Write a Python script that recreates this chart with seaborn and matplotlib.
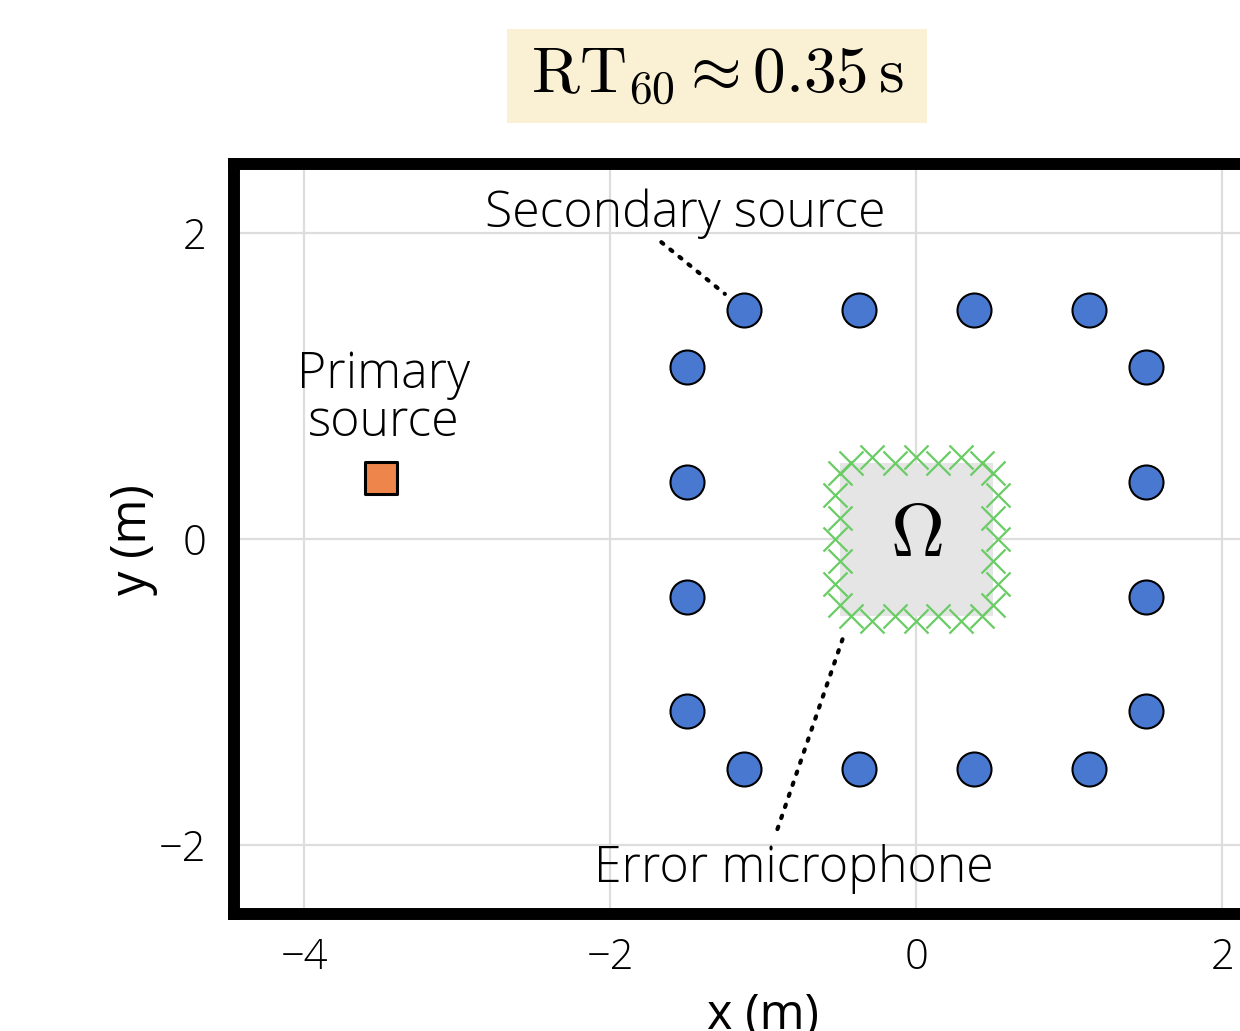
import matplotlib
matplotlib.use("Agg")
import matplotlib.pyplot as plt
import seaborn as sns
from matplotlib.patches import Rectangle

# ---------------- data ----------------
# secondary sources (loudspeakers) on a square of half-side 1.5 m
sec_x = [-1.125, -0.375, 0.375, 1.125, 1.5, 1.5, 1.5, 1.5,
         1.125, 0.375, -0.375, -1.125, -1.5, -1.5, -1.5, -1.5]
sec_y = [1.5, 1.5, 1.5, 1.5, 1.125, 0.375, -0.375, -1.125,
         -1.5, -1.5, -1.5, -1.5, -1.125, -0.375, 0.375, 1.125]

# primary source
prim_x = [-3.5]
prim_y = [0.4]

# error microphones around the control region (staggered double layer)
mic_x = [-0.43, -0.29, -0.14, 0.0, 0.14, 0.29, 0.43,          # top
         -0.43, -0.29, -0.14, 0.0, 0.14, 0.29, 0.43,          # bottom
         -0.50, -0.535, -0.50, -0.535, -0.50, -0.535, -0.50,  # left
         0.50, 0.535, 0.50, 0.535, 0.50, 0.535, 0.50]         # right
mic_y = [0.50, 0.535, 0.50, 0.535, 0.50, 0.535, 0.50,
         -0.50, -0.535, -0.50, -0.535, -0.50, -0.535, -0.50,
         0.43, 0.29, 0.14, 0.0, -0.14, -0.29, -0.43,
         0.43, 0.29, 0.14, 0.0, -0.14, -0.29, -0.43]

# control region Omega (square, half-side)
omega_half = 0.5

x_ticks = [-4, -2, 0, 2]
y_ticks = [-2, 0, 2]
x_lim = (-4.46, 2.46)
y_lim = (-2.45, 2.45)

# ---------------- style ----------------
sns.set_theme(style="white")
plt.rcParams['font.family'] = ['Open Sans', 'DejaVu Sans']
plt.rcParams['font.weight'] = 'light'
plt.rcParams['mathtext.fontset'] = 'cm'
for k in ['text.color', 'axes.labelcolor', 'xtick.color', 'ytick.color']:
    plt.rcParams[k] = 'black'

fig = plt.figure(figsize=(12.4, 10.31), dpi=100)
ax_w = (x_lim[1] - x_lim[0]) * 153 / 1240
ax_h = (y_lim[1] - y_lim[0]) * 153 / 1031
ax = fig.add_axes([234 / 1240, 1 - 914 / 1031, ax_w, ax_h])

# control region
ax.add_patch(Rectangle((-omega_half, -omega_half), 2 * omega_half, 2 * omega_half,
                       facecolor="#E5E5E5", edgecolor="none", zorder=1))
ax.text(0, 0.02, r"$\Omega$", ha="center", va="center", fontsize=54, zorder=2)

# microphones
sns.scatterplot(x=mic_x, y=mic_y, ax=ax, marker="x", s=300, color="#6ACC64",
                linewidth=1.6, zorder=3, legend=False)
# secondary sources
sns.scatterplot(x=sec_x, y=sec_y, ax=ax, marker="o", s=600, color="#4878D0",
                edgecolor="black", linewidth=1.5, zorder=4, legend=False)
# primary source
sns.scatterplot(x=prim_x, y=prim_y, ax=ax, marker="s", s=560, color="#EE854A",
                edgecolor="black", linewidth=2.2, zorder=4, legend=False)

ax.set_xlim(*x_lim)
ax.set_ylim(*y_lim)
ax.set_xticks(x_ticks)
ax.set_yticks(y_ticks)
ax.grid(True, color="#DDDDDD", linewidth=1.6, zorder=0)
ax.set_axisbelow(True)
ax.tick_params(axis="both", length=0, labelsize=30)
ax.tick_params(axis="x", pad=16)
ax.tick_params(axis="y", pad=20)
for sp in ax.spines.values():
    sp.set_linewidth(8.6)
    sp.set_color("black")
    sp.set_zorder(5)

ax.set_xlabel("x (m)", fontsize=35)
ax.set_ylabel("y (m)", fontsize=35)
ax.xaxis.set_label_coords(0.5, -0.104)
ax.yaxis.set_label_coords(-0.072, 0.5)

dots = dict(arrowstyle="-", linestyle=(0, (0.6, 2.2)), lw=3, capstyle="round",
            color="black", shrinkA=0, shrinkB=18)

# annotations
ax.text(-1.51, 2.039, "Secondary source", ha="center", va="baseline", fontsize=36)
ax.annotate("", xy=(sec_x[0], sec_y[0]), xytext=(-1.667, 1.941), arrowprops=dots)
ax.text(-0.80, -2.242, "Error microphone", ha="center", va="baseline", fontsize=36)
ax.annotate("", xy=(mic_x[7], mic_y[7]), xytext=(-0.908, -1.895), arrowprops=dots)
ax.text(-3.48, 0.673, "Primary\nsource", ha="center", va="baseline", fontsize=36,
        linespacing=0.95, multialignment="center")

# RT60 box
fig.patches.append(Rectangle((507 / 1240, 1 - 123 / 1031), 420 / 1240, 94 / 1031,
                             transform=fig.transFigure, facecolor="#FAF0D4",
                             edgecolor="none", zorder=0))
fig.text(717 / 1240, 1 - 76 / 1031, r"$\mathrm{RT}_{60} \approx 0.35\,\mathrm{s}$",
         ha="center", va="center", fontsize=47, zorder=1)

fig.savefig("out.png", dpi=100)
